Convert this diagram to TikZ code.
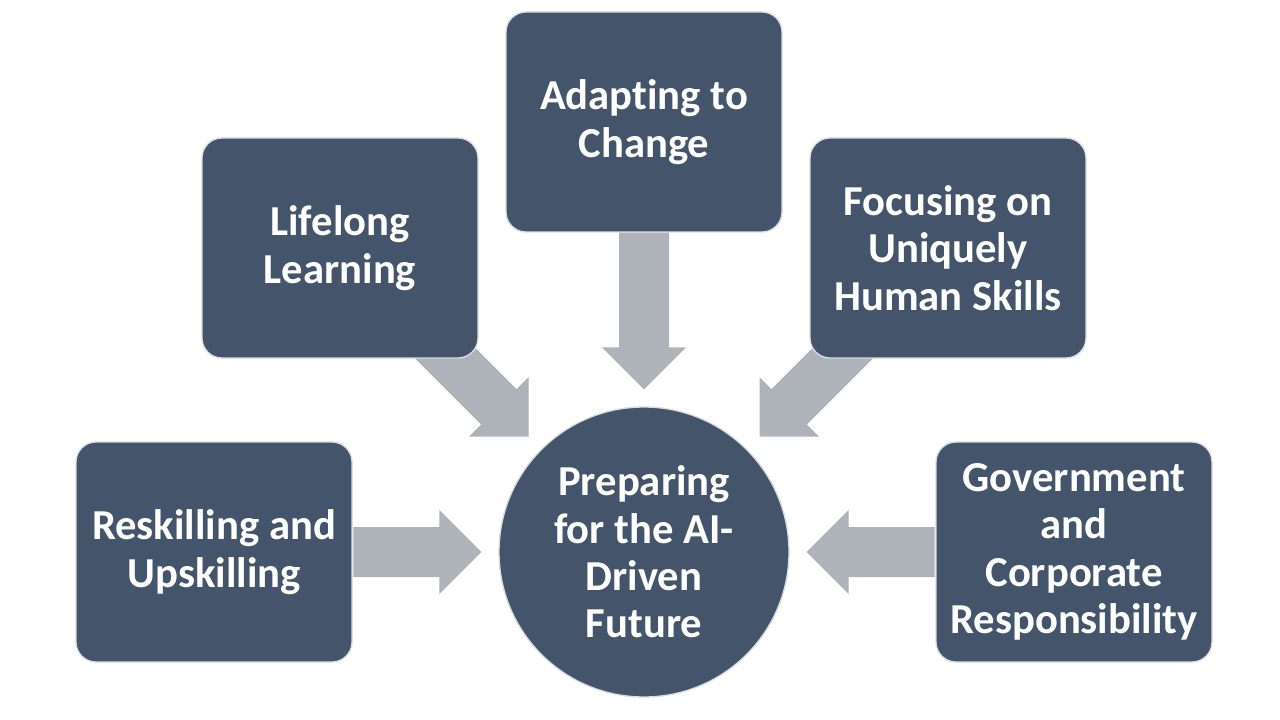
\documentclass[tikz,border=0pt]{standalone}
\usepackage{fontspec}
\setmainfont{Carlito}[Ligatures=NoCommon]
\usetikzlibrary{calc,backgrounds}
\definecolor{boxfill}{HTML}{44546A}
\definecolor{arrowfill}{HTML}{AEB2B9}
\definecolor{boxline}{HTML}{D9DCE0}
\tikzset{
  topic/.style={draw=boxline, line width=1pt, fill=boxfill, rounded corners=15pt,
    minimum width=207pt, minimum height=165pt, align=center, text=white,
    font=\bfseries\fontsize{32}{35.5}\selectfont, inner sep=0pt},
  hub/.style={draw=boxline, line width=1pt, fill=boxfill, circle, minimum size=217.5pt,
    align=center, text=white, font=\bfseries\fontsize{32}{35.5}\selectfont, inner sep=0pt},
  blockarrow/.pic={
    \fill[arrowfill] (0,0) -- (-42,42) -- (-42,25) -- (-#1,25) -- (-#1,-25) -- (-42,-25) -- (-42,-42) -- cycle;
  }
}
\begin{document}
\begin{tikzpicture}[x=0.75pt,y=-0.75pt]
\useasboundingbox (0,0) rectangle (1280,720);
\node[hub] (c) at (644,552) {Preparing\\for the AI-\\Driven\\Future};
\node[topic] (resk) at (214,552) {Reskilling and\\Upskilling};
\node[topic] (life) at (340,248) {Lifelong\\Learning};
\node[topic] (adapt) at (644,122) {Adapting to\\Change};
\node[topic] (focus) at (948,248) {Focusing on\\Uniquely\\Human Skills};
\node[topic] (gov) at (1074,552) {Government\\and\\Corporate\\Responsibility};
\begin{scope}[on background layer]
  \fill[white] (0,0) rectangle (1280,720);
  \coordinate (tR) at ($(c.west)+(-17,0)$);
  \coordinate (tL) at ($(c.east)+(17,0)$);
  \coordinate (tD) at ($(c.north)+(0,-17)$);
  \coordinate (tDR) at ($(c.135)+(-12.5,-12.5)$);
  \coordinate (tDL) at ($(c.45)+(12.5,-12.5)$);
  \pic at (tR) {blockarrow=128};
  \pic[rotate=180] at (tL) {blockarrow=128};
  \pic[rotate=-90] at (tD) {blockarrow=157};
  \pic[rotate=-45] at (tDR) {blockarrow=160};
  \pic[rotate=-135] at (tDL) {blockarrow=160};
\end{scope}
\end{tikzpicture}
\end{document}
